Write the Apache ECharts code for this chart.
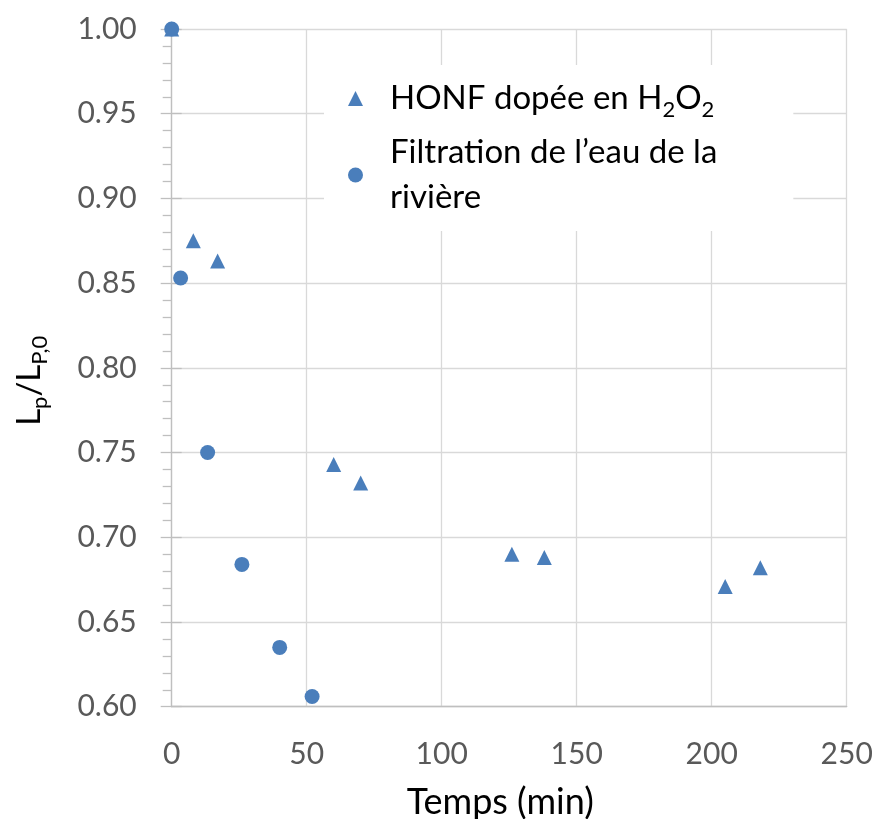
<!DOCTYPE html>
<html>
<head>
<meta charset="utf-8">
<script src="https://cdn.jsdelivr.net/npm/echarts@6/dist/echarts.min.js"></script>
<style>
html,body{margin:0;padding:0;background:#fff;}
#chart{width:875px;height:819px;}
</style>
</head>
<body>
<div id="chart"></div>
<script>
const seriesNames = ['HONF dopée en H2O2', 'Filtration de l’eau de la rivière'];
const xTriangle = [0, 8, 17, 60, 70, 126, 138, 205, 218];
const yTriangle = [1.00, 0.875, 0.863, 0.743, 0.732, 0.690, 0.688, 0.671, 0.682];
const xCircle = [0, 3.3, 13.3, 26, 40, 52];
const yCircle = [1.00, 0.853, 0.750, 0.684, 0.635, 0.606];
const xTitle = 'Temps (min)';

const FONT = 'Lato';
const BLUE = '#4A7EBB';
const chart = echarts.init(document.getElementById('chart'));

const pairs = (xs, ys) => xs.map((x, i) => [x, ys[i]]);

chart.setOption({
  animation: false,
  backgroundColor: '#fff',
  textStyle: { fontFamily: FONT },
  grid: { left: 171.7, right: 28.3, top: 29, bottom: 112.3, containLabel: false, outerBoundsMode: 'none' },
  legend: {
    orient: 'vertical',
    left: 324,
    top: 65,
    backgroundColor: '#fff',
    padding: [17, 76, 17, 24],
    itemWidth: 15,
    itemHeight: 15,
    itemGap: 15,
    data: seriesNames,
    formatter: function (name) {
      if (name === seriesNames[0]) return '{t|HONF dopée en H}{s|2}{t|O}{s|2}';
      return '{t|Filtration de l’eau de la}\n{t|rivière}';
    },
    textStyle: {
      color: '#000',
      padding: [0, 0, 0, 22],
      rich: {
        t: { fontFamily: FONT, fontSize: 33, lineHeight: 45, color: '#000', verticalAlign: 'middle' },
        s: { fontFamily: FONT, fontSize: 22, lineHeight: 24, color: '#000', verticalAlign: 'bottom' }
      }
    }
  },
  xAxis: {
    type: 'value',
    min: 0, max: 250, interval: 50,
    name: xTitle,
    nameLocation: 'middle',
    nameGap: 78,
    nameTextStyle: { fontFamily: FONT, fontSize: 36, color: '#000', padding: [0, 18, 0, 0] },
    axisLine: { show: true, onZero: false, lineStyle: { color: '#bfbfbf', width: 1.3 } },
    axisTick: { show: false },
    axisLabel: { margin: 33, fontFamily: FONT, fontSize: 30, color: '#595959' },
    splitLine: { show: true, lineStyle: { color: '#d9d9d9', width: 1.3 } }
  },
  yAxis: [{
    type: 'value',
    min: 0.6, max: 1.0, interval: 0.05,
    position: 'left',
    name: '{a|L}{s|p}{a|/L}{s|P,0}',
    nameLocation: 'middle',
    nameGap: 121,
    nameTextStyle: {
      color: '#000',
      padding: [0, 26, 0, 0],
      rich: {
        a: { fontFamily: FONT, fontSize: 33, lineHeight: 42, color: '#000', verticalAlign: 'middle' },
        s: { fontFamily: FONT, fontSize: 22, lineHeight: 22, color: '#000', verticalAlign: 'bottom' }
      }
    },
    axisLine: { show: true, onZero: false, lineStyle: { color: '#bfbfbf', width: 1.3 } },
    axisTick: { show: true, inside: false, length: 11, lineStyle: { color: '#bfbfbf', width: 1.3 } },
    minorTick: { show: true, splitNumber: 5, length: 9, lineStyle: { color: '#bfbfbf', width: 1.3 } },
    axisLabel: {
      margin: 35, fontFamily: FONT, fontSize: 30, color: '#595959',
      formatter: v => v.toFixed(2)
    },
    splitLine: { show: true, lineStyle: { color: '#d9d9d9', width: 1.3 } }
  }, {
    type: 'value',
    min: 0.6, max: 1.0, interval: 0.05,
    position: 'left',
    axisLine: { show: false },
    axisTick: { show: true, inside: true, length: 10, lineStyle: { color: '#bfbfbf', width: 1.3 } },
    axisLabel: { show: false },
    splitLine: { show: false }
  }],
  series: [{
    name: seriesNames[0],
    type: 'scatter',
    symbol: 'triangle',
    symbolSize: 15,
    clip: false,
    itemStyle: { color: BLUE, opacity: 1 },
    data: pairs(xTriangle, yTriangle)
  }, {
    name: seriesNames[1],
    type: 'scatter',
    symbol: 'circle',
    symbolSize: 15,
    clip: false,
    itemStyle: { color: BLUE, opacity: 1 },
    data: pairs(xCircle, yCircle)
  }]
});
</script>
</body>
</html>
